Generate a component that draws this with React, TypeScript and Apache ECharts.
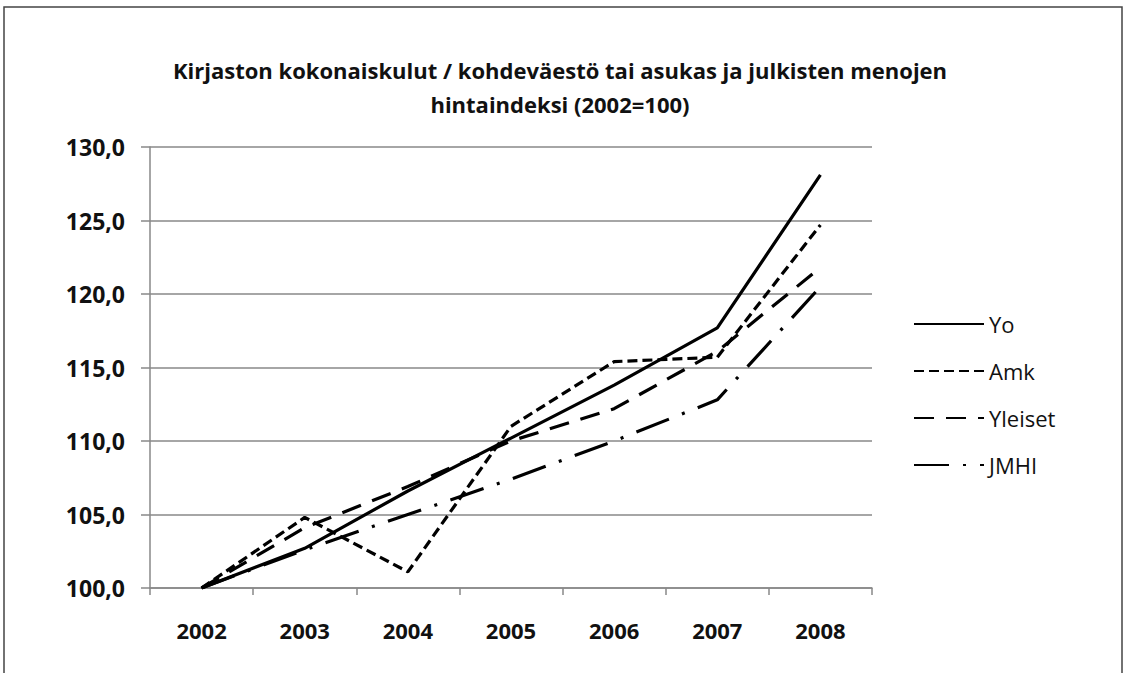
import React, { useEffect, useRef } from "react";
import * as echarts from "echarts";

const years = ["2002", "2003", "2004", "2005", "2006", "2007", "2008"];
const yo = [100, 102.7, 106.6, 110.2, 113.8, 117.7, 128.1];
const amk = [100, 104.8, 101.1, 111.0, 115.4, 115.7, 124.7];
const yleiset = [100, 104.1, 106.9, 110.0, 112.2, 116.1, 121.8];
const jmhi = [100, 102.6, 105.0, 107.4, 110.0, 112.8, 120.5];

const titleText = "Kirjaston kokonaiskulut / kohdeväestö tai asukas ja julkisten menojen\nhintaindeksi (2002=100)";

export default function App() {
  const ref = useRef<HTMLDivElement>(null);
  useEffect(() => {
    document.body.style.margin = "0";
    const chart = echarts.init(ref.current!, null, { renderer: "svg" });
    const font = "'Open Sans', 'Noto Sans', sans-serif";
    const mk = (name: string, data: number[], type: any) => ({
      name,
      type: "line",
      data,
      symbol: "none",
      lineStyle: { color: "#000", width: 3.2, type, cap: "butt" },
      itemStyle: { color: "#000" },
    });
    chart.setOption({
      animation: false,
      backgroundColor: "#fff",
      textStyle: { fontFamily: font },
      title: {
        text: titleText,
        left: 555,
        textAlign: "center",
        top: 48,
        textStyle: { fontSize: 22, fontWeight: "bold", color: "#111", lineHeight: 34, fontFamily: font },
      },
      graphic: [
        {
          type: "rect",
          shape: { x: 4, y: 7, width: 1118, height: 720 },
          style: { fill: "none", stroke: "#444", lineWidth: 1.5 },
          silent: true,
        },
      ],
      legend: {
        orient: "vertical",
        left: 913,
        top: 313,
        padding: 0,
        itemWidth: 70,
        itemHeight: 14,
        itemGap: 25,
        itemStyle: { opacity: 0 },
        textStyle: { fontSize: 22, color: "#111", fontFamily: font },
        data: ["Yo", "Amk", "Yleiset", "JMHI"],
      },
      grid: { left: 150, right: 254, top: 147, bottom: 85, containLabel: false },
      xAxis: {
        type: "category",
        data: years,
        boundaryGap: true,
        axisLine: { lineStyle: { color: "#888", width: 1.5 } },
        axisTick: { show: true, length: 7, lineStyle: { color: "#888", width: 1.5 } },
        axisLabel: { fontSize: 22, fontWeight: "bold", color: "#111", margin: 31, fontFamily: font },
      },
      yAxis: {
        type: "value",
        min: 100,
        max: 130,
        interval: 5,
        axisLine: { show: true, lineStyle: { color: "#888", width: 1.5 } },
        axisTick: { show: true, length: 9, lineStyle: { color: "#888", width: 1.5 } },
        splitLine: { lineStyle: { color: "#888", width: 1.5 } },
        axisLabel: {
          fontSize: 23,
          fontWeight: "bold",
          color: "#111",
          margin: 25,
          fontFamily: font,
          formatter: (v: number) => v.toFixed(1).replace(".", ","),
        },
      },
      series: [
        mk("Yo", yo, "solid"),
        mk("Amk", amk, [10, 5]),
        mk("Yleiset", yleiset, [20, 12]),
        mk("JMHI", jmhi, [35, 14, 3, 14]),
      ],
    });
    return () => chart.dispose();
  }, []);
  return <div ref={ref} style={{ width: 1126, height: 673 }} />;
}
